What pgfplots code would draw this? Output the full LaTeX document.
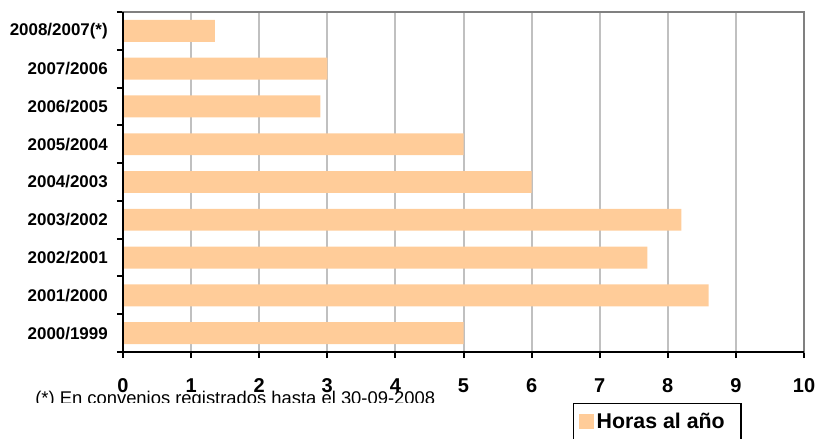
\documentclass[border=0pt]{standalone}
\usepackage{pgfplots}
\pgfplotsset{compat=1.18}
\usepackage{fontspec}
\setmainfont{Liberation Sans}
\definecolor{barfill}{HTML}{FFCC99}
\definecolor{gridgray}{HTML}{C0C0C0}
\definecolor{framegray}{HTML}{808080}

\begin{document}
\begin{tikzpicture}
\begin{axis}[
    name=ax,
    at={(0pt,0pt)}, anchor=south west,
    scale only axis,
    width=510.75pt, height=255pt,
    xbar, bar width=0.58,
    xmin=0, xmax=10, ymin=-0.5, ymax=8.5,
    xtick={0,...,10},
    ytick={0,...,8},
    yticklabels={2000/1999,2001/2000,2002/2001,2003/2002,2004/2003,2005/2004,2006/2005,2007/2006,2008/2007(*)},
    minor xtick={0,...,10},
    minor ytick={-0.5,0.5,...,8.5},
    xtick pos=bottom, ytick pos=left,
    tick align=outside,
    major tick length=4.5pt, minor tick length=4.5pt,
    major tick style={draw=none},
    minor tick style={black, line width=1.5pt},
    xmajorgrids,
    major x grid style={gridgray, line width=1.5pt},
    axis line style={framegray, line width=1.5pt},
    /pgf/number format/assume math mode=true,
    xticklabel style={font=\bfseries\fontsize{15}{18}\selectfont, anchor=north, inner sep=0pt, yshift=-15pt},
    yticklabel style={font=\bfseries\fontsize{12.7}{15}\selectfont, anchor=east, inner sep=0pt, xshift=-6.75pt},
    legend style={draw=black, line width=1.1pt, at={(0.6608,-0.15)}, anchor=north west,
        font=\bfseries\fontsize{16}{19}\selectfont, inner xsep=4pt, inner ysep=5pt},
    legend image code/.code={\fill[barfill] (0pt,-5.625pt) rectangle (11.25pt,5.625pt);},
]
\addplot[fill=barfill, draw=none] coordinates {
    (5.0,0) (8.6,1) (7.7,2) (8.2,3) (6.0,4) (5.0,5) (2.9,6) (3.0,7) (1.35,8)
};
\addlegendentry{Horas al año\hspace*{6pt}}
\end{axis}
\draw[black, line width=1.5pt] (ax.north west) -- (ax.south west) -- (ax.south east);
\begin{scope}
  \clip (-92pt,-38.25pt) rectangle (400pt,0pt);
  \node[anchor=base west, inner sep=0pt, font=\fontsize{13.8}{16}\selectfont] at (-66pt,-39.4pt)
    {(*) En convenios registrados hasta el 30-09-2008};
\end{scope}
\pgfresetboundingbox
\useasboundingbox (-92.25pt,-65.25pt) rectangle (521.25pt,264pt);
\end{tikzpicture}
\end{document}
